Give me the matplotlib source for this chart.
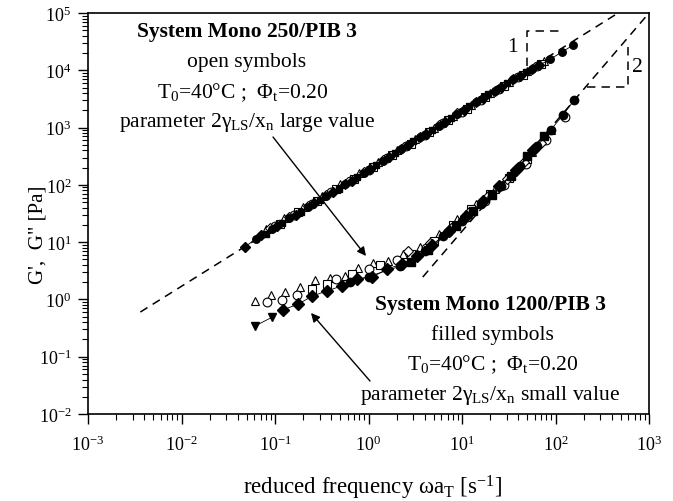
import numpy as np
import matplotlib
matplotlib.use("Agg")
import matplotlib.pyplot as plt
from matplotlib.ticker import LogLocator, NullFormatter, FixedLocator, LogFormatterMathtext

plt.rcParams['font.family'] = ['Liberation Serif', 'DejaVu Serif']
plt.rcParams['mathtext.fontset'] = 'custom'
plt.rcParams['mathtext.rm'] = 'Liberation Serif'
plt.rcParams['mathtext.it'] = 'Liberation Serif:italic'
plt.rcParams['mathtext.bf'] = 'Liberation Serif:bold'

# ---------------- data (log10 values) ----------------
x_ticks = [1e-3, 1e-2, 1e-1, 1e0, 1e1, 1e2, 1e3]
y_ticks = [1e-2, 1e-1, 1e0, 1e1, 1e2, 1e3, 1e4, 1e5]

# upper curve: G'' of both systems
g2_250_tri_logw = [-1.10, -0.90, -0.70, -0.50, -0.30, -0.10, 0.10, 0.30, 0.50, 0.70, 0.90, 1.10, 1.30, 1.50, 1.70, 1.88]
g2_250_tri_logG = [1.23, 1.42, 1.62, 1.81, 2.01, 2.20, 2.40, 2.60, 2.80, 3.00, 3.20, 3.40, 3.60, 3.80, 3.99, 4.16]
g2_250_cir_logw = [-1.00, -0.80, -0.60, -0.40, -0.20, 0.00, 0.20, 0.40, 0.60, 0.80, 1.00, 1.20, 1.40, 1.60, 1.80]
g2_250_cir_logG = [1.28, 1.47, 1.67, 1.87, 2.06, 2.26, 2.47, 2.67, 2.87, 3.08, 3.28, 3.49, 3.68, 3.88, 4.07]
g2_250_sq_logw = [-0.95, -0.75, -0.55, -0.35, -0.15, 0.05, 0.25, 0.45, 0.65, 0.85, 1.05, 1.25, 1.45, 1.65, 1.85]
g2_250_sq_logG = [1.32, 1.52, 1.72, 1.92, 2.11, 2.31, 2.52, 2.72, 2.92, 3.13, 3.33, 3.53, 3.73, 3.92, 4.11]
g2_250_dia_logw = [-1.05, -0.85, -0.65, -0.45, -0.25, -0.05, 0.15, 0.35, 0.55, 0.75, 0.95, 1.15, 1.35, 1.55, 1.75]
g2_250_dia_logG = [1.24, 1.44, 1.63, 1.83, 2.02, 2.22, 2.43, 2.63, 2.84, 3.04, 3.25, 3.45, 3.64, 3.84, 4.03]
g2_1200_dia_logw = [-1.32, -1.15, -0.98, -0.78, -0.58, -0.38, -0.18, 0.02, 0.22, 0.42, 0.62, 0.82, 1.02, 1.22, 1.42, 1.62, 1.82]
g2_1200_dia_logG = [0.92, 1.12, 1.29, 1.48, 1.68, 1.88, 2.07, 2.27, 2.48, 2.69, 2.89, 3.10, 3.30, 3.51, 3.70, 3.90, 4.09]
g2_1200_sq_logw = [-1.10, -0.92, -0.72, -0.52, -0.32, -0.12, 0.08, 0.28, 0.48, 0.68, 0.88, 1.08, 1.28, 1.48, 1.68]
g2_1200_sq_logG = [1.15, 1.33, 1.53, 1.73, 1.93, 2.13, 2.34, 2.55, 2.76, 2.96, 3.17, 3.38, 3.58, 3.78, 3.97]
g2_1200_cir_logw = [-1.20, -1.03, -0.85, -0.65, -0.45, -0.25, -0.05, 0.15, 0.35, 0.55, 0.75, 0.95, 1.15, 1.35, 1.55, 1.75, 1.94, 2.07, 2.19]
g2_1200_cir_logG = [1.05, 1.23, 1.42, 1.62, 1.81, 2.01, 2.21, 2.41, 2.62, 2.83, 3.03, 3.24, 3.44, 3.64, 3.84, 4.02, 4.19, 4.32, 4.44]

# lower curve: G' of Mono 250/PIB 3 (open symbols)
g1_250_tri_logw = [-1.21, -1.04, -0.89, -0.73, -0.57, -0.41, -0.25, -0.11, 0.05, 0.21, 0.37, 0.55, 0.75, 0.95, 1.15, 1.35, 1.55, 1.75, 1.95]
g1_250_tri_logG = [-0.03, 0.08, 0.13, 0.22, 0.34, 0.38, 0.41, 0.55, 0.64, 0.67, 0.79, 0.92, 1.14, 1.40, 1.66, 1.93, 2.24, 2.57, 2.95]
g1_250_cir_logw = [-1.09, -0.93, -0.77, -0.35, 0.00, 0.30, 0.62, 0.85, 1.05, 1.25, 1.45, 1.68, 1.90, 2.10]
g1_250_cir_logG = [-0.04, -0.01, 0.08, 0.36, 0.53, 0.68, 0.90, 1.17, 1.44, 1.71, 2.00, 2.36, 2.78, 3.18]
g1_250_sq_logw = [-0.60, -0.44, -0.18, 0.12, 0.45, 0.70, 0.90, 1.10, 1.30, 1.50, 1.70]
g1_250_sq_logG = [0.18, 0.27, 0.45, 0.60, 0.80, 1.02, 1.30, 1.57, 1.84, 2.12, 2.45]
g1_250_dia_logw = [0.42, 0.66, 0.88, 1.08, 1.28, 1.48, 1.66, 1.84]
g1_250_dia_logG = [0.84, 0.98, 1.25, 1.52, 1.80, 2.10, 2.40, 2.73]

# lower curve: G' of Mono 1200/PIB 3 (filled symbols)
g1_1200_tri_logw = [-1.21, -1.03]
g1_1200_tri_logG = [-0.46, -0.31]
g1_1200_dia_logw = [-0.91, -0.75, -0.60, -0.44, -0.28, -0.12, 0.04, 0.20, 0.36, 0.52, 0.68, 0.86, 1.04, 1.22, 1.40, 1.58, 1.76]
g1_1200_dia_logG = [-0.18, -0.08, 0.06, 0.15, 0.24, 0.36, 0.39, 0.53, 0.62, 0.76, 0.95, 1.19, 1.45, 1.71, 1.98, 2.26, 2.60]
g1_1200_sq_logw = [0.45, 0.64, 0.94, 1.12, 1.32, 1.52, 1.70, 1.88]
g1_1200_sq_logG = [0.66, 0.86, 1.28, 1.54, 1.83, 2.16, 2.50, 2.86]
g1_1200_cir_logw = [-0.20, 0.00, 0.34, 0.60, 0.80, 1.00, 1.20, 1.42, 1.62, 1.80, 1.95, 2.08, 2.20]
g1_1200_cir_logG = [0.30, 0.40, 0.58, 0.85, 1.10, 1.37, 1.66, 1.98, 2.33, 2.67, 2.96, 3.22, 3.48]

# guide lines (dashed) and slope triangles
slope1_logw = [-2.44, 2.67]
slope1_logG = [-0.22, 5.0]
slope2_logw = [0.58, 3.0]
slope2_logG = [0.39, 5.0]
tri1_logw = [1.695, 1.695, 2.08]
tri1_logG = [4.075, 4.686, 4.686]
tri2_logw = [2.337, 2.775, 2.775]
tri2_logG = [3.71, 3.71, 4.51]

# ---------------- figure ----------------
W, H = 673, 502
fig = plt.figure(figsize=(W / 100, H / 100), dpi=100)
ax = fig.add_axes([88 / W, 1 - 415 / H, (649 - 88) / W, (415 - 14) / H])
ax.set_xscale('log')
ax.set_yscale('log')
ax.set_xlim(1e-3, 1e3)
ax.set_ylim(1e-2, 1e5)

def P(lw_, lg_):
    return 10 ** np.array(lw_), 10 ** np.array(lg_)

dash = (0, (5.5, 4))
ax.plot(*P(slope1_logw, slope1_logG), color='k', lw=1.1, ls=dash, zorder=1)
ax.plot(*P(slope2_logw, slope2_logG), color='k', lw=1.1, ls=dash, zorder=1)
ax.plot(*P(tri1_logw, tri1_logG), color='k', lw=1.1, ls=dash, zorder=1)
ax.plot(*P(tri2_logw, tri2_logG), color='k', lw=1.1, ls=dash, zorder=1)

ms = 6.3
open_kw = dict(ls='none', mfc='white', mec='k', mew=0.8, ms=ms, zorder=3)
fill_kw = dict(ls='-', lw=0.6, color='k', mfc='k', mec='k', ms=ms, zorder=4)

# open symbols (Mono 250)
for xs, ys, mk in [(g2_250_tri_logw, g2_250_tri_logG, '^'),
                   (g2_250_cir_logw, g2_250_cir_logG, 'o'),
                   (g2_250_sq_logw, g2_250_sq_logG, 's'),
                   (g2_250_dia_logw, g2_250_dia_logG, 'D'),
                   (g1_250_tri_logw, g1_250_tri_logG, '^'),
                   (g1_250_cir_logw, g1_250_cir_logG, 'o'),
                   (g1_250_sq_logw, g1_250_sq_logG, 's'),
                   (g1_250_dia_logw, g1_250_dia_logG, 'D')]:
    ax.plot(*P(xs, ys), marker=mk, **dict(open_kw, ms=(5 if mk == 'D' else ms)))

# filled symbols (Mono 1200)
for xs, ys, mk, m in [(g2_1200_dia_logw, g2_1200_dia_logG, 'D', 5.2),
                      (g2_1200_sq_logw, g2_1200_sq_logG, 's', 5.0),
                      (g2_1200_cir_logw, g2_1200_cir_logG, 'o', 5.4),
                      (g1_1200_tri_logw, g1_1200_tri_logG, 'v', 6.3),
                      (g1_1200_dia_logw, g1_1200_dia_logG, 'D', 5.8),
                      (g1_1200_sq_logw, g1_1200_sq_logG, 's', 5.6),
                      (g1_1200_cir_logw, g1_1200_cir_logG, 'o', 6.0)]:
    ax.plot(*P(xs, ys), marker=mk, **dict(fill_kw, ms=m))

# ticks
ax.xaxis.set_major_locator(FixedLocator(x_ticks))
ax.yaxis.set_major_locator(FixedLocator(y_ticks))
ax.xaxis.set_major_formatter(LogFormatterMathtext())
ax.yaxis.set_major_formatter(LogFormatterMathtext())
ax.xaxis.set_minor_locator(LogLocator(base=10, subs=np.arange(2, 10), numticks=100))
ax.yaxis.set_minor_locator(LogLocator(base=10, subs=np.arange(2, 10), numticks=100))
ax.xaxis.set_minor_formatter(NullFormatter())
ax.yaxis.set_minor_formatter(NullFormatter())
ax.tick_params(which='major', direction='out', length=7, width=1, labelsize=13, top=False, right=False)
ax.tick_params(which='minor', direction='out', length=4, width=0.8, top=False, right=False)
ax.tick_params(axis='x', which='major', pad=8)
ax.tick_params(axis='y', which='major', pad=5)
for s in ax.spines.values():
    s.set_linewidth(1.2)

ax.set_xlabel(r"reduced frequency ωa$_{\rm T}$ [s$^{-1}$]", fontsize=16.5)
ax.xaxis.set_label_coords((372 - 88) / 561, (415 - 474) / 401)
ax.set_ylabel("G',  G\" [Pa]", fontsize=15)
ax.yaxis.set_label_coords((48 - 88) / 561, (415 - 235) / 401)

# texts
def T(x, y, s, **kw):
    fig.text(x / W, 1 - y / H, s, ha='center', va='center', fontsize=15.5, **kw)

T(247, 32, "System Mono 250/PIB 3", fontweight='bold')
T(247, 63, "open symbols")
T(243, 93, r"T$_0$=40°C ;  Φ$_{\rm t}$=0.20")
T(247, 123, r"parameter 2γ$_{\rm LS}$/x$_{\rm n}$ large value")

T(490, 305, "System Mono 1200/PIB 3", fontweight='bold')
T(492, 335, "filled symbols")
T(493, 365, r"T$_0$=40°C ;  Φ$_{\rm t}$=0.20")
T(490, 396, r"parameter 2γ$_{\rm LS}$/x$_{\rm n}$ small value")

# slope labels
ax.text(10 ** 1.535, 10 ** 4.42, "1", fontsize=15.5, ha='center', va='center')
ax.text(10 ** 2.88, 10 ** 4.06, "2", fontsize=15.5, ha='center', va='center')

# arrows
def A(tail, head):
    fig.add_artist(matplotlib.patches.FancyArrowPatch(
        (tail[0] / W, 1 - tail[1] / H), (head[0] / W, 1 - head[1] / H),
        transform=fig.transFigure, arrowstyle='-|>', mutation_scale=13,
        lw=1.0, color='k', shrinkA=0, shrinkB=0))

A((273, 138), (366, 257))
A((370, 382), (311, 314))

fig.savefig("out.png", dpi=100)
